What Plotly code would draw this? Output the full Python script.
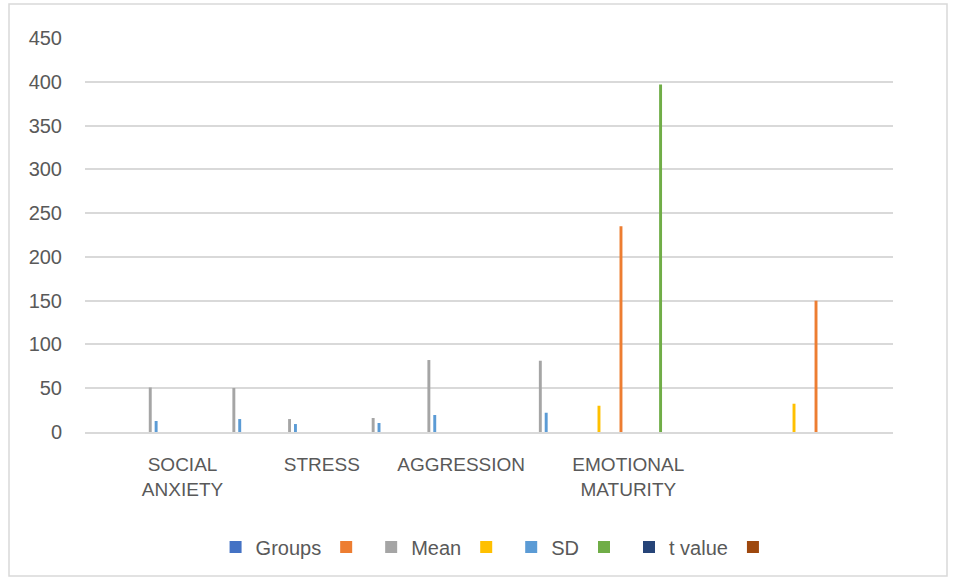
import plotly.graph_objects as go

# 29 category slots; only four carry a printed label
n_slots = 29
category_labels = [""] * n_slots
category_labels[3] = "SOCIAL<br>ANXIETY"
category_labels[8] = "STRESS"
category_labels[13] = "AGGRESSION"
category_labels[19] = "EMOTIONAL<br>MATURITY"

series_names = ["Groups", "", "Mean", "", "SD", "", "t value", ""]
series_colors = ["#4472C4", "#ED7D31", "#A5A5A5", "#FFC000",
                 "#5B9BD5", "#70AD47", "#264478", "#9E480E"]

groups  = [0] * 29
s2      = [0, 0, 0, 0, 0, 0, 0, 0, 0, 0, 0, 0, 0, 0, 0, 0, 0, 0, 0, 235, 0, 0, 0, 0, 0, 0, 150, 0, 0]
mean    = [0, 0, 50.9, 0, 0, 50.3, 0, 14.8, 0, 0, 16, 0, 82.2, 0, 0, 0, 81.4, 0, 0, 0, 0, 0, 0, 0, 0, 0, 0, 0, 0]
s4      = [0, 0, 0, 0, 0, 0, 0, 0, 0, 0, 0, 0, 0, 0, 0, 0, 0, 0, 30, 0, 0, 0, 0, 0, 0, 32.3, 0, 0, 0]
sd      = [0, 0, 12.6, 0, 0, 14.8, 0, 9.1, 0, 0, 10.3, 0, 19.4, 0, 0, 0, 22, 0, 0, 0, 0, 0, 0, 0, 0, 0, 0, 0, 0]
s6      = [0, 0, 0, 0, 0, 0, 0, 0, 0, 0, 0, 0, 0, 0, 0, 0, 0, 0, 0, 0, 397, 0, 0, 0, 0, 0, 0, 0, 0]
t_value = [0] * 29
s8      = [0] * 29

series_values = [groups, s2, mean, s4, sd, s6, t_value, s8]

x_pos = list(range(n_slots))

fig = go.Figure()
for name, color, vals in zip(series_names, series_colors, series_values):
    fig.add_trace(go.Bar(x=x_pos, y=vals, name=name,
                         marker=dict(color=color, line=dict(width=0))))

text_color = "#595959"
grid_color = "#D9D9D9"

fig.update_layout(
    width=958, height=581,
    margin=dict(l=85, r=65, t=38, b=149),
    paper_bgcolor="white", plot_bgcolor="white",
    barmode="group", bargap=1.5 / 9.5, bargroupgap=0,
    font=dict(family="Liberation Sans, Arial, sans-serif", color=text_color, size=19),
    showlegend=True,
    legend=dict(orientation="h", x=0.51, xanchor="center", y=-0.292, yanchor="middle",
                font=dict(size=20, color=text_color), traceorder="normal",
                itemwidth=30),
    xaxis=dict(range=[-0.5, n_slots - 0.5], tickmode="array", tickvals=x_pos,
               ticktext=category_labels, showgrid=False, zeroline=False,
               showline=True, linecolor=grid_color, linewidth=2, ticks="",
               tickfont=dict(size=19, color=text_color), ticklabelstandoff=14,
               fixedrange=True),
    yaxis=dict(range=[0, 450], dtick=50, showgrid=True, gridcolor=grid_color,
               gridwidth=1.5, zeroline=False, showline=False, ticks="",
               tickfont=dict(size=20, color=text_color), ticklabelstandoff=22),
)

# thin outer frame around the chart area
fig.add_shape(type="rect", xref="paper", yref="paper",
              x0=(9 - 85) / 808, x1=(947 - 85) / 808,
              y0=(432 - 576) / 394, y1=(432 - 4) / 394,
              line=dict(color=grid_color, width=1.5), layer="below")

fig.write_html("out.html")
